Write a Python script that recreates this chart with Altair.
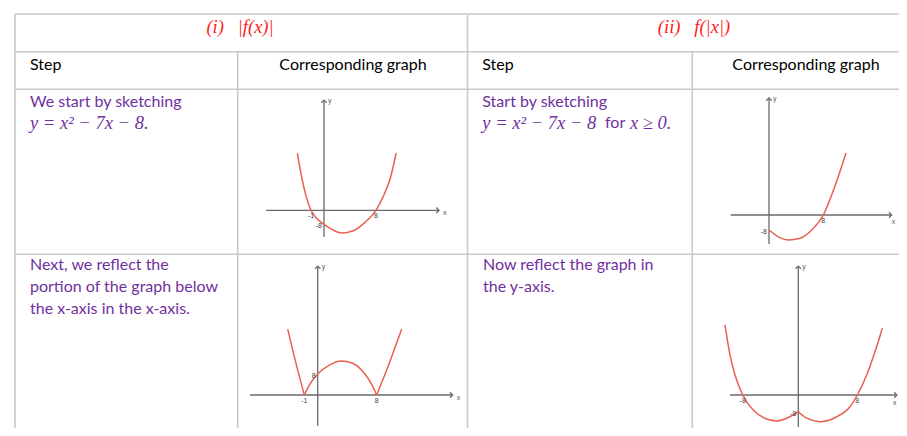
import altair as alt
import pandas as pd

# ---------------- text content ----------------
NB = "\u00a0"
titles = ["(i)" + NB * 3 + "|f(x)|", "(ii)" + NB * 3 + "f(|x|)"]
col_heads = ["Step", "Corresponding graph"]
step_i_1 = ["We start by sketching"]
math_i = "y = x² − 7x − 8."
step_ii_1 = ["Start by sketching"]
math_ii = ["y = x² − 7x − 8", "for", "x ≥ 0."]
step_i_2 = ["Next, we reflect the", "portion of the graph below", "the x-axis in the x-axis."]
step_ii_2 = ["Now reflect the graph in", "the y-axis."]

# ---------------- graph data (sketch units) ----------------
# Graph 1: y = x^2 - 7x - 8
g1_x = [-4.1, -3.4, -2.8, -2.0, -1.1, 0.0, 1.2, 2.7, 4.5, 6.3, 8.0, 9.1, 10.2, 11.1]
g1_y = [32.6, 18.3, 8.7, 0.0, -4.7, -8.0, -10.9, -13.0, -11.7, -6.9, 0.0, 7.8, 18.3, 32.6]
g1_seg = [0] * 14
g1_xticks, g1_xtick_labels = [-2.0, 8.0], ["-1", "8"]
g1_yticks, g1_ytick_labels = [-8.0], ["-8"]
g1_axis_x, g1_axis_y = [-8.9, 17.7], [-15.3, 63.0]

# Graph 2: y = x^2 - 7x - 8 for x >= 0
g2_x = [0.0, 1.62, 2.84, 4.57, 6.29, 8.0, 9.23, 10.2, 11.34]
g2_y = [-8.0, -12.1, -13.3, -12.4, -8.0, 0.0, 10.7, 20.4, 33.1]
g2_seg = [0] * 9
g2_xticks, g2_xtick_labels = [8.0], ["8"]
g2_yticks, g2_ytick_labels = [-8.0], ["-8"]
g2_axis_x, g2_axis_y = [-5.64, 18.07], [-15.5, 62.4]

# Graph 3: |f(x)|
g3_x = [-4.07, -3.39, -2.71, -1.82,
        -1.82, -1.14, 0.0, 1.57, 3.16, 4.75, 6.32, 7.23, 8.0,
        8.0, 8.81, 9.71, 10.52, 11.39]
g3_y = [25.1, 17.1, 9.5, 0.0,
        0.0, 3.8, 8.0, 11.4, 13.0, 12.1, 8.3, 4.5, 0.0,
        0.0, 5.7, 12.1, 18.4, 25.1]
g3_seg = [0] * 4 + [1] * 9 + [2] * 5
g3_xticks, g3_xtick_labels = [-1.82, 8.0], ["-1", "8"]
g3_yticks, g3_ytick_labels = [8.0], ["8"]
g3_axis_x, g3_axis_y = [-9.18, 18.3], [-11.7, 49.1]

# Graph 4: f(|x|)
g4_x = [-9.94, -9.26, -8.58, -7.54, -6.10, -4.28, -2.93, -1.13, 0.0,
        0.0, 1.14, 2.94, 5.21, 7.01, 8.0, 9.27, 10.4, 11.39]
g4_y = [33.5, 19.1, 9.6, 0.0, -7.2, -11.5, -12.4, -10.4, -8.0,
        -8.0, -11.1, -12.8, -10.4, -5.6, 0.0, 9.6, 20.7, 31.9]
g4_seg = [0] * 9 + [1] * 9
g4_xticks, g4_xtick_labels = [-7.54, 8.0], ["-8", "8"]
g4_yticks, g4_ytick_labels = [-8.0], ["-8"]
g4_axis_x, g4_axis_y = [-9.26, 13.38], [-15.3, 61.7]

# ---------------- styles ----------------
PURPLE = "#7030A0"
RED = "#FF1A1A"
GRID = "#C9C9C9"
AXC = "#6a6a6a"
CURVE = "#E8604F"
SANS = "Lato"
SERIF = "Liberation Serif"
W, H = 891, 420
OFF = 8  # page margin
FS = 16
MFS = 18.5

RIGHT = "M-1,-1L0,0L-1,1"
UP = "M-1,1L0,0L1,1"

one = pd.DataFrame({"k": [0]})
layers = []

# ---------------- table grid ----------------
hlines = [6, 43.7, 81.3, 246.3]
for yy in hlines:
    layers.append(alt.Chart(one).mark_rule(color=GRID, strokeWidth=1.6).encode(
        x=alt.value(7), x2=alt.value(W), y=alt.value(yy)))
for xx, ytop in [(7, 6), (459.5, 6), (229.7, 43.7), (684.3, 43.7)]:
    layers.append(alt.Chart(one).mark_rule(color=GRID, strokeWidth=1.6).encode(
        x=alt.value(xx), y=alt.value(ytop), y2=alt.value(H)))


def txt(s, x, y, color="black", font=SANS, size=FS, align="left", style="normal"):
    return alt.Chart(one).mark_text(
        font=font, fontSize=size, color=color, align=align, baseline="middle",
        fontStyle=style).encode(x=alt.value(x), y=alt.value(y), text=alt.value(s))


# titles
layers.append(txt(titles[0], 232, 19.3, RED, SERIF, MFS, "center", "italic"))
layers.append(txt(titles[1], 686, 19.3, RED, SERIF, MFS, "center", "italic"))
# column heads
layers.append(txt(col_heads[0], 22, 57))
layers.append(txt(col_heads[1], 345, 57, align="center"))
layers.append(txt(col_heads[0], 474.3, 57))
layers.append(txt(col_heads[1], 798, 57, align="center"))
# row 3
layers.append(txt(step_i_1[0], 22, 94.3, PURPLE))
layers.append(txt(math_i, 22, 114.7, PURPLE, SERIF, MFS, style="italic"))
layers.append(txt(step_ii_1[0], 474.3, 94.3, PURPLE))
layers.append(txt(math_ii[0], 474.3, 114.7, PURPLE, SERIF, MFS, style="italic"))
layers.append(txt(math_ii[1], 597, 114.7, PURPLE))
layers.append(txt(math_ii[2], 622, 114.7, PURPLE, SERIF, MFS, style="italic"))
# row 4
for i, s in enumerate(step_i_2):
    layers.append(txt(s, 22, 257 + i * 22.2, PURPLE))
for i, s in enumerate(step_ii_2):
    layers.append(txt(s, 475, 257 + i * 22.2, PURPLE))


# ---------------- graphs ----------------
def graph(x, y, seg, xt, xtl, yt, ytl, axx, axy, frame, xname_off=(4, 3)):
    ox, oy, sx, sy = frame
    ox -= OFF
    oy -= OFF
    xs = alt.Scale(domain=[0, 10], range=[ox, ox + 10 * sx], nice=False, zero=False)
    ys = alt.Scale(domain=[0, 10], range=[oy, oy - 10 * sy], nice=False, zero=False)

    def X(f):
        return alt.X(f, type="quantitative", scale=xs, axis=None)

    def Y(f):
        return alt.Y(f, type="quantitative", scale=ys, axis=None)

    out = []
    ax_df = pd.DataFrame({"x1": [axx[0], 0.0], "x2": [axx[1], 0.0],
                          "y1": [0.0, axy[0]], "y2": [0.0, axy[1]]})
    out.append(alt.Chart(ax_df).mark_rule(color=AXC, strokeWidth=1.3).encode(
        x=X("x1"), x2="x2:Q", y=Y("y1"), y2="y2:Q"))
    out.append(alt.Chart(pd.DataFrame({"x": [axx[1]], "y": [0.0]})).mark_point(
        shape=RIGHT, size=30, filled=False, color=AXC, strokeWidth=1.3, opacity=1).encode(
        x=X("x"), y=Y("y")))
    out.append(alt.Chart(pd.DataFrame({"x": [0.0], "y": [axy[1]]})).mark_point(
        shape=UP, size=30, filled=False, color=AXC, strokeWidth=1.3, opacity=1).encode(
        x=X("x"), y=Y("y")))
    # axis names
    out.append(alt.Chart(pd.DataFrame({"x": [axx[1]], "y": [0.0], "t": ["x"]})).mark_text(
        font="Liberation Sans", fontSize=7, color="#555", align="left",
        dx=xname_off[0], dy=xname_off[1]).encode(x=X("x"), y=Y("y"), text="t:N"))
    out.append(alt.Chart(pd.DataFrame({"x": [0.0], "y": [axy[1]], "t": ["y"]})).mark_text(
        font="Liberation Sans", fontSize=7, color="#555", align="left", dx=4, dy=1).encode(
        x=X("x"), y=Y("y"), text="t:N"))
    # curve
    cdf = pd.DataFrame({"x": x, "y": y, "seg": seg, "i": list(range(len(x)))})
    out.append(alt.Chart(cdf).mark_line(interpolate="monotone", color=CURVE,
                                        strokeWidth=1.5).encode(
        x=X("x"), y=Y("y"), detail="seg:N", order="i:Q"))
    # tick labels
    out.append(alt.Chart(pd.DataFrame({"x": xt, "y": [0.0] * len(xt), "t": xtl})).mark_text(
        font="Liberation Sans", fontSize=7, color="#444", align="center", baseline="top",
        dy=2).encode(x=X("x"), y=Y("y"), text="t:N"))
    out.append(alt.Chart(pd.DataFrame({"x": [0.0] * len(yt), "y": yt, "t": ytl})).mark_text(
        font="Liberation Sans", fontSize=7, color="#444", align="right", baseline="middle",
        dx=-2, dy=2).encode(x=X("x"), y=Y("y"), text="t:N"))
    return out


layers += graph(g1_x, g1_y, g1_seg, g1_xticks, g1_xtick_labels, g1_yticks, g1_ytick_labels,
                g1_axis_x, g1_axis_y, (324.0, 210.3, 6.5, 1.75))
layers += graph(g2_x, g2_y, g2_seg, g2_xticks, g2_xtick_labels, g2_yticks, g2_ytick_labels,
                g2_axis_x, g2_axis_y, (769.0, 215.0, 6.79, 1.875), xname_off=(0, 7))
layers += graph(g3_x, g3_y, g3_seg, g3_xticks, g3_xtick_labels, g3_yticks, g3_ytick_labels,
                g3_axis_x, g3_axis_y, (317.7, 395.0, 7.375, 2.625))
layers += graph(g4_x, g4_y, g4_seg, g4_xticks, g4_xtick_labels, g4_yticks, g4_ytick_labels,
                g4_axis_x, g4_axis_y, (798.3, 395.0, 7.375, 2.09), xname_off=(-4, 8))

chart = alt.layer(*layers).resolve_scale(x="independent", y="independent").properties(
    width=W, height=H, padding=0, autosize=alt.AutoSizeParams(type="none")
).configure_view(stroke=None)

chart.save("out.html", embed_options={"renderer": "svg", "actions": False})
